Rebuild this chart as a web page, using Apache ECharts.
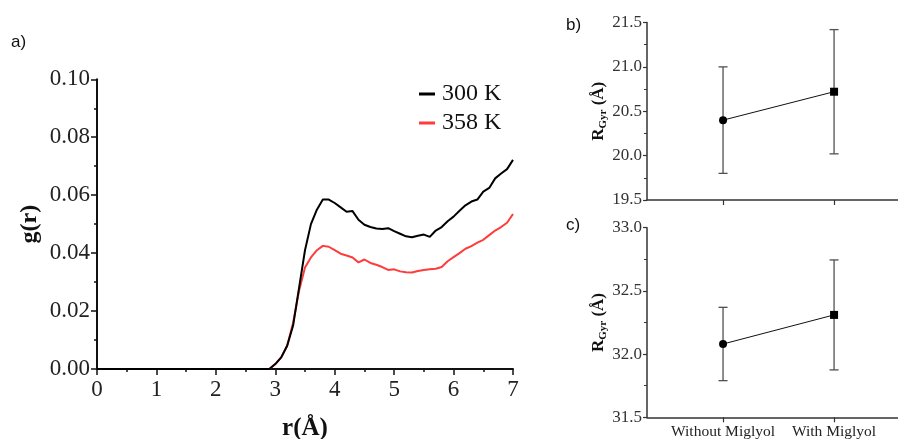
<!DOCTYPE html>
<html>
<head>
<meta charset="utf-8">
<script src="https://cdn.jsdelivr.net/npm/echarts@6/dist/echarts.min.js"></script>
<style>
html,body{margin:0;padding:0;background:#fff;}
#main{width:898px;height:439px;}
</style>
</head>
<body>
<div id="main"></div>
<script>
// ---- Panel a: radial distribution function ----
const rValues = [0, 2.8, 2.9, 3.0, 3.1, 3.2, 3.3, 3.4, 3.5, 3.6, 3.7, 3.8, 3.9, 4.0, 4.1, 4.2, 4.3, 4.4, 4.5, 4.6, 4.7, 4.8, 4.9, 5.0, 5.1, 5.2, 5.3, 5.4, 5.5, 5.6, 5.7, 5.8, 5.9, 6.0, 6.1, 6.2, 6.3, 6.4, 6.5, 6.6, 6.7, 6.8, 6.9, 7.0];
const g300 = [0, 0, 0, 0.0017, 0.004, 0.008, 0.015, 0.028, 0.041, 0.050, 0.055, 0.0585, 0.0585, 0.0573, 0.0558, 0.0543, 0.0545, 0.0515, 0.0498, 0.049, 0.0485, 0.0483, 0.0486, 0.0476, 0.0467, 0.0458, 0.0455, 0.0460, 0.0464, 0.0456, 0.0478, 0.049, 0.051, 0.0526, 0.0546, 0.0565, 0.0578, 0.0585, 0.0612, 0.0625, 0.0658, 0.0675, 0.069, 0.0722];
const g358 = [0, 0, 0, 0.0017, 0.004, 0.008, 0.016, 0.027, 0.035, 0.0385, 0.041, 0.0425, 0.0422, 0.041, 0.0398, 0.0392, 0.0385, 0.0368, 0.0378, 0.0366, 0.036, 0.0352, 0.0342, 0.0344, 0.0337, 0.0334, 0.0333, 0.0338, 0.0342, 0.0344, 0.0346, 0.0352, 0.0372, 0.0386, 0.040, 0.0415, 0.0424, 0.0436, 0.0446, 0.0462, 0.0478, 0.049, 0.0505, 0.0535];
const seriesNames = ['300 K', '358 K'];

// ---- Panels b and c: radius of gyration ----
const groups = ['Without Miglyol', 'With Miglyol'];
const rgB = [20.40, 20.72];
const errB = [0.60, 0.70];
const rgC = [32.08, 32.31];
const errC = [0.29, 0.435];

const SERIF = 'Liberation Serif';
const pairs = (xs, ys) => xs.map((x, i) => [x, ys[i]]);

function errorSeries(xi, yi, means, errs) {
  return {
    type: 'custom', xAxisIndex: xi, yAxisIndex: yi, z: 1,
    data: means.map((m, i) => [i, m - errs[i], m + errs[i]]),
    renderItem: function (params, api) {
      const x = api.value(0);
      const lo = api.coord([x, api.value(1)]);
      const hi = api.coord([x, api.value(2)]);
      const w = 4.5;
      const st = {stroke: '#505050', lineWidth: 1.3};
      return {type: 'group', children: [
        {type: 'line', shape: {x1: lo[0], y1: lo[1], x2: hi[0], y2: hi[1]}, style: st},
        {type: 'line', shape: {x1: lo[0] - w, y1: lo[1], x2: lo[0] + w, y2: lo[1]}, style: st},
        {type: 'line', shape: {x1: hi[0] - w, y1: hi[1], x2: hi[0] + w, y2: hi[1]}, style: st}
      ]};
    }
  };
}
function meanSeries(xi, yi, means) {
  return {
    type: 'line', xAxisIndex: xi, yAxisIndex: yi, z: 3,
    data: means.map((m, i) => ({value: [i, m], symbol: i === 0 ? 'circle' : 'rect', symbolSize: 8})),
    lineStyle: {color: '#111', width: 1},
    itemStyle: {color: '#000'},
    showSymbol: true
  };
}
function rgyrY(gi, min, max) {
  return {
    gridIndex: gi, type: 'value', min: min, max: max, interval: 0.5,
    name: '{a|R}{b|Gyr}{a| (Å)}', nameLocation: 'middle', nameGap: 38, nameRotate: 90,
    nameTextStyle: {rich: {
      a: {fontFamily: SERIF, fontWeight: 'bold', fontSize: 17, color: '#111', lineHeight: 20},
      b: {fontFamily: SERIF, fontWeight: 'bold', fontSize: 11, color: '#111', lineHeight: 10, verticalAlign: 'bottom'}
    }},
    axisLine: {show: true, onZero: false, lineStyle: {color: '#333', width: 1.5}},
    axisTick: {show: true, length: 4, lineStyle: {color: '#333', width: 1.2}},
    minorTick: {show: true, splitNumber: 2, length: 3, lineStyle: {color: '#333', width: 1}},
    axisLabel: {fontFamily: SERIF, fontSize: 17, color: '#333', margin: 5, formatter: v => v.toFixed(1)},
    splitLine: {show: false}
  };
}
function catX(gi, showLabels) {
  return {
    gridIndex: gi, type: 'value', min: -0.685, max: 1.576,
    axisLine: {show: true, onZero: false, lineStyle: {color: '#333', width: 1.5}},
    axisTick: {show: true, customValues: [0, 1], length: 5, lineStyle: {color: '#333', width: 1.2}},
    axisLabel: {show: showLabels, customValues: [0, 1], fontFamily: SERIF, fontSize: 15.5, color: '#222', margin: 7,
      formatter: v => groups[Math.round(v)] || ''},
    splitLine: {show: false}
  };
}

const chart = echarts.init(document.getElementById('main'));
chart.setOption({
  animation: false,
  backgroundColor: '#fff',
  grid: [
    {left: 97, top: 79.3, width: 416, height: 289.7, outerBoundsMode: 'none', containLabel: false},
    {left: 647, top: 22.5, width: 251, height: 177.5, outerBoundsMode: 'none', containLabel: false},
    {left: 647, top: 227.7, width: 251, height: 189.6, outerBoundsMode: 'none', containLabel: false}
  ],
  legend: {
    show: true, orient: 'vertical', left: 414, top: 77, itemGap: 5,
    itemWidth: 16, itemHeight: 3, icon: 'rect',
    textStyle: {fontFamily: SERIF, fontSize: 24, color: '#111', padding: [0, 0, 0, 2]},
    data: seriesNames
  },
  xAxis: [
    {
      gridIndex: 0, type: 'value', min: 0, max: 7, interval: 1,
      name: 'r(Å)', nameLocation: 'middle', nameGap: 47,
      nameTextStyle: {fontFamily: SERIF, fontWeight: 'bold', fontSize: 25, color: '#111'},
      axisLine: {show: true, onZero: false, lineStyle: {color: '#111', width: 2}},
      axisTick: {show: true, length: 6, lineStyle: {color: '#111', width: 1.5}},
      minorTick: {show: true, splitNumber: 2, length: 3, lineStyle: {color: '#111', width: 1.5}},
      axisLabel: {fontFamily: SERIF, fontSize: 23, color: '#222', margin: 9},
      splitLine: {show: false}
    },
    catX(1, false),
    catX(2, true)
  ],
  yAxis: [
    {
      gridIndex: 0, type: 'value', min: 0, max: 0.1, interval: 0.02,
      name: 'g(r)', nameLocation: 'middle', nameGap: 55, nameRotate: 90,
      nameTextStyle: {fontFamily: SERIF, fontWeight: 'bold', fontSize: 24, color: '#111'},
      axisLine: {show: true, onZero: false, lineStyle: {color: '#111', width: 2}},
      axisTick: {show: true, length: 6, lineStyle: {color: '#111', width: 1.5}},
      minorTick: {show: true, splitNumber: 2, length: 3, lineStyle: {color: '#111', width: 1.5}},
      axisLabel: {fontFamily: SERIF, fontSize: 23, color: '#222', margin: 7, formatter: v => v.toFixed(2)},
      splitLine: {show: false}
    },
    rgyrY(1, 19.5, 21.5),
    rgyrY(2, 31.5, 33.0)
  ],
  series: [
    {name: seriesNames[0], type: 'line', xAxisIndex: 0, yAxisIndex: 0, data: pairs(rValues, g300),
      showSymbol: false, symbol: 'none', color: '#000', lineStyle: {color: '#000', width: 2}, z: 3},
    {name: seriesNames[1], type: 'line', xAxisIndex: 0, yAxisIndex: 0, data: pairs(rValues, g358),
      showSymbol: false, symbol: 'none', color: '#ff3b3b', lineStyle: {color: '#ff3b3b', width: 2}, z: 2},
    errorSeries(1, 1, rgB, errB),
    meanSeries(1, 1, rgB),
    errorSeries(2, 2, rgC, errC),
    meanSeries(2, 2, rgC)
  ],
  graphic: [
    {type: 'text', left: 11, top: 34, style: {text: 'a)', font: '17px "Liberation Sans"', fill: '#111'}},
    {type: 'text', left: 566, top: 17, style: {text: 'b)', font: '17px "Liberation Sans"', fill: '#111'}},
    {type: 'text', left: 566, top: 217, style: {text: 'c)', font: '17px "Liberation Sans"', fill: '#111'}}
  ]
});
</script>
</body>
</html>
